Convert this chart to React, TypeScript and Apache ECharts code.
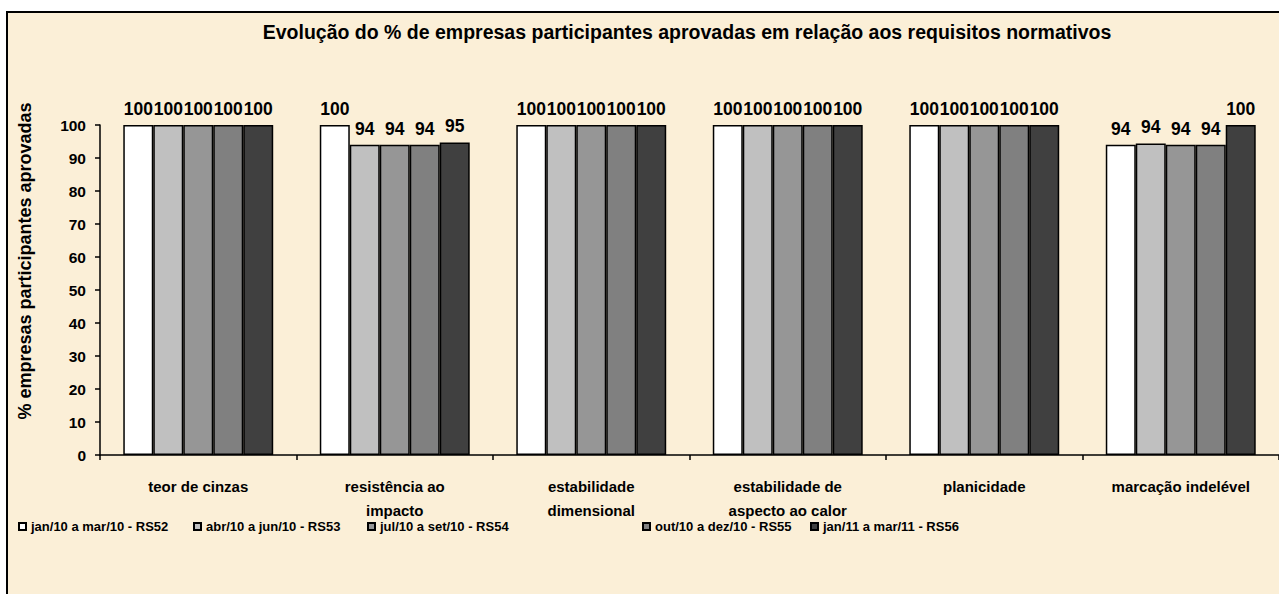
import React, { useEffect, useRef } from "react";
import * as echarts from "echarts";

const categories = [
  "teor de cinzas",
  "resistência ao\nimpacto",
  "estabilidade\ndimensional",
  "estabilidade de\naspecto ao calor",
  "planicidade",
  "marcação indelével",
];

const seriesNames = [
  "jan/10 a mar/10 - RS52",
  "abr/10 a jun/10 - RS53",
  "jul/10 a set/10 - RS54",
  "out/10 a dez/10 - RS55",
  "jan/11 a mar/11 - RS56",
];

const rs52 = [100, 100, 100, 100, 100, 94];
const rs53 = [100, 94, 100, 100, 100, 94.4];
const rs54 = [100, 94, 100, 100, 100, 94];
const rs55 = [100, 94, 100, 100, 100, 94];
const rs56 = [100, 94.7, 100, 100, 100, 100];

const seriesValues = [rs52, rs53, rs54, rs55, rs56];
const seriesColors = ["#ffffff", "#c0c0c0", "#969696", "#808080", "#404040"];
const legendLefts = [18, 193, 367, 642, 810];

const titleText =
  "Evolução do % de empresas participantes aprovadas em relação aos requisitos normativos";
const yAxisTitle = "% empresas participantes aprovadas";

const FONT = "'Liberation Sans', Arial, Helvetica, sans-serif";

export default function App() {
  const ref = useRef<HTMLDivElement>(null);

  useEffect(() => {
    if (!ref.current) return;
    const chart = echarts.init(ref.current, undefined, { renderer: "svg" });
    const option: any = {
      animation: false,
      backgroundColor: "#ffffff",
      textStyle: { fontFamily: FONT },
      title: {
        text: titleText,
        left: 687,
        top: 22,
        padding: 0,
        textAlign: "center",
        textStyle: { fontFamily: FONT, fontWeight: "bold", fontSize: 19.5, color: "#000" },
      },
      legend: seriesNames.map((n, i) => ({
        data: [n],
        left: legendLefts[i],
        top: 520,
        padding: 0,
        itemWidth: 7,
        itemHeight: 7,
        icon: "rect",
        selectedMode: false,
        textStyle: { fontFamily: FONT, fontWeight: "bold", fontSize: 13, color: "#000" },
      })),
      graphic: [
        {
          type: "rect",
          z: -10,
          silent: true,
          shape: { x: 7, y: 12, width: 1300, height: 620 },
          style: { fill: "#fbefd7", stroke: "#000", lineWidth: 2 },
        },
        {
          type: "text",
          x: 25,
          y: 261,
          rotation: Math.PI / 2,
          style: {
            text: yAxisTitle,
            fontFamily: FONT,
            fontWeight: "bold",
            fontSize: 18,
            fill: "#000",
            align: "center",
            verticalAlign: "middle",
          },
        },
      ],
      grid: { left: 100, top: 125, width: 1180, height: 330, containLabel: false },
      xAxis: {
        type: "category",
        data: categories,
        axisLine: { lineStyle: { color: "#000", width: 1.5 } },
        axisTick: { show: true, length: 5, lineStyle: { color: "#000", width: 1.5 } },
        axisLabel: {
          interval: 0,
          margin: 19,
          fontFamily: FONT,
          fontWeight: "bold",
          fontSize: 15,
          lineHeight: 24,
          color: "#000",
        },
      },
      yAxis: {
        type: "value",
        min: 0,
        max: 100,
        interval: 10,
        axisLine: { show: true, lineStyle: { color: "#000", width: 1.5 } },
        axisTick: { show: true, length: 5, lineStyle: { color: "#000", width: 1.5 } },
        splitLine: { show: false },
        axisLabel: {
          margin: 14,
          fontFamily: FONT,
          fontWeight: "bold",
          fontSize: 15.5,
          color: "#000",
        },
      },
      series: seriesNames.map((n, i) => ({
        name: n,
        type: "bar",
        data: seriesValues[i],
        barGap: "0%",
        barCategoryGap: "23.7%",
        itemStyle: { color: seriesColors[i], borderColor: "#000", borderWidth: 1.5 },
        label: {
          show: true,
          position: "top",
          distance: 7,
          fontFamily: FONT,
          fontWeight: "bold",
          fontSize: 17.5,
          color: "#000",
          formatter: (p: any) => String(Math.round(p.value)),
        },
      })),
    };
    chart.setOption(option);
    return () => chart.dispose();
  }, []);

  return (
    <div
      ref={ref}
      style={{ position: "fixed", left: 0, top: 0, width: 1279, height: 594 }}
    />
  );
}
